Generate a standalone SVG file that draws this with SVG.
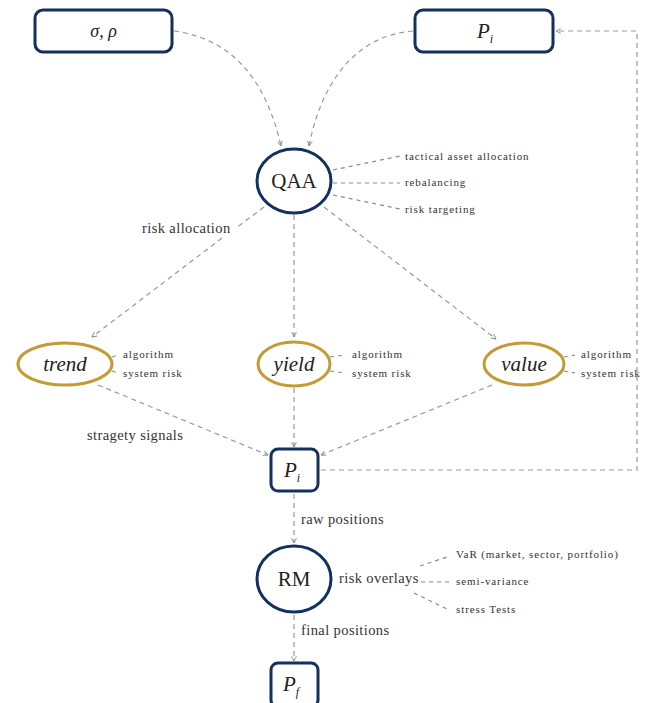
<svg xmlns="http://www.w3.org/2000/svg" width="654" height="703" viewBox="0 0 654 703">
<defs>
<marker id="ah" viewBox="0 0 10 10" refX="9" refY="5" markerWidth="6" markerHeight="6" orient="auto-start-reverse" markerUnits="userSpaceOnUse">
<path d="M1,1 L9,5 L1,9" fill="none" stroke="#888" stroke-width="1.5"/>
</marker>
<style>
.box{fill:#fff;stroke:#14305e;stroke-width:3}
.nav{fill:#fff;stroke:#14305e;stroke-width:3}
.gold{fill:#fff;stroke:#c49a35;stroke-width:3}
.c{fill:none;stroke:#999;stroke-width:1.2;stroke-dasharray:5,4}
.s{fill:none;stroke:#888;stroke-width:1.2;stroke-dasharray:4,4}
.t{font-family:"Liberation Serif","DejaVu Serif",serif;fill:#333;font-size:14.5px;letter-spacing:0.4px}
.m{font-family:"Liberation Serif","DejaVu Serif",serif;fill:#222}
.sm{font-family:"Liberation Serif","DejaVu Serif",serif;font-size:11px;fill:#333;letter-spacing:0.9px}
</style>
</defs>
<rect width="654" height="703" fill="#fff"/>
<g id="connectors">
<path class="c" d="M174,31 C240,40 268,90 281,146" marker-end="url(#ah)"/>
<path class="c" d="M413,31 C350,36 320,90 309,146" marker-end="url(#ah)"/>
<path class="s" d="M333,170 L400,156"/>
<path class="s" d="M333,183 L400,183"/>
<path class="s" d="M333,195 L400,209"/>
<path class="c" d="M264,207 L236,228 M222,238 L92,337" marker-end="url(#ah)"/>
<path class="c" d="M294,215 L294,337" marker-end="url(#ah)"/>
<path class="c" d="M324,207 L496,339" marker-end="url(#ah)"/>
<path class="s" d="M112,357 L118,355"/>
<path class="s" d="M112,371 L118,373"/>
<path class="s" d="M330,357 L346,355"/>
<path class="s" d="M330,371 L346,373"/>
<path class="s" d="M564,357 L575,355"/>
<path class="s" d="M564,371 L575,373"/>
<path class="c" d="M98,385 L268,455" marker-end="url(#ah)"/>
<path class="c" d="M294,388 L294,447" marker-end="url(#ah)"/>
<path class="c" d="M492,385 L321,455" marker-end="url(#ah)"/>
<path class="c" d="M321,470 L637,470 L637,31 L556,31" marker-end="url(#ah)"/>
<path class="c" d="M294,494 L294,543" marker-end="url(#ah)"/>
<path class="s" d="M420,566 L447,557"/>
<path class="s" d="M421,582 L449,582"/>
<path class="s" d="M414,593 L447,609"/>
<path class="c" d="M294,615 L294,661" marker-end="url(#ah)"/>
</g>
<g id="sigma-rho">
<rect class="box" x="35" y="10" width="137" height="42" rx="8"/>
<text class="m" x="103.5" y="37" font-size="18" text-anchor="middle" font-style="italic">σ<tspan font-style="normal">,</tspan> ρ</text>
</g>
<g id="Pi-top">
<rect class="box" x="415" y="10" width="138" height="42" rx="8"/>
<text class="m" x="477" y="38" font-size="21" font-style="italic">P<tspan font-size="12" dy="5">i</tspan></text>
</g>
<g id="QAA">
<ellipse class="nav" cx="294" cy="181" rx="37" ry="32"/>
<text class="m" x="294" y="188" font-size="21" text-anchor="middle">QAA</text>
<text class="sm" x="405" y="160">tactical asset allocation</text>
<text class="sm" x="405" y="186">rebalancing</text>
<text class="sm" x="405" y="213">risk targeting</text>
</g>
<text class="t" x="142" y="233">risk allocation</text>
<g id="trend">
<ellipse class="gold" cx="65" cy="364" rx="47" ry="21"/>
<text class="m" x="65" y="371" font-size="21" text-anchor="middle" font-style="italic">trend</text>
<text class="sm" x="123" y="358">algorithm</text>
<text class="sm" x="123" y="377">system risk</text>
</g>
<g id="yield">
<ellipse class="gold" cx="294" cy="364" rx="36" ry="22"/>
<text class="m" x="294" y="371" font-size="21" text-anchor="middle" font-style="italic">yield</text>
<text class="sm" x="352" y="358">algorithm</text>
<text class="sm" x="352" y="377">system risk</text>
</g>
<g id="value">
<ellipse class="gold" cx="524" cy="364" rx="40" ry="21"/>
<text class="m" x="524" y="371" font-size="21" text-anchor="middle" font-style="italic">value</text>
<text class="sm" x="581" y="358">algorithm</text>
<text class="sm" x="581" y="377">system risk</text>
</g>
<text class="t" x="87" y="440">stragety signals</text>
<g id="Pi-mid">
<rect class="box" x="271" y="449" width="47" height="42" rx="7"/>
<text class="m" x="284" y="477" font-size="21" font-style="italic">P<tspan font-size="12" dy="5">i</tspan></text>
</g>
<text class="t" x="301" y="524">raw positions</text>
<g id="RM">
<ellipse class="nav" cx="294" cy="579" rx="37" ry="33"/>
<text class="m" x="294" y="586" font-size="21" text-anchor="middle">RM</text>
<text class="t" x="339" y="583">risk overlays</text>
<text class="sm" x="456" y="558">VaR (market, sector, portfolio)</text>
<text class="sm" x="456" y="585">semi-variance</text>
<text class="sm" x="456" y="613">stress Tests</text>
</g>
<text class="t" x="301" y="635">final positions</text>
<g id="Pf">
<rect class="box" x="271" y="663" width="47" height="44" rx="7"/>
<text class="m" x="283" y="691" font-size="21" font-style="italic">P<tspan font-size="12" dy="5">f</tspan></text>
</g>
</svg>
